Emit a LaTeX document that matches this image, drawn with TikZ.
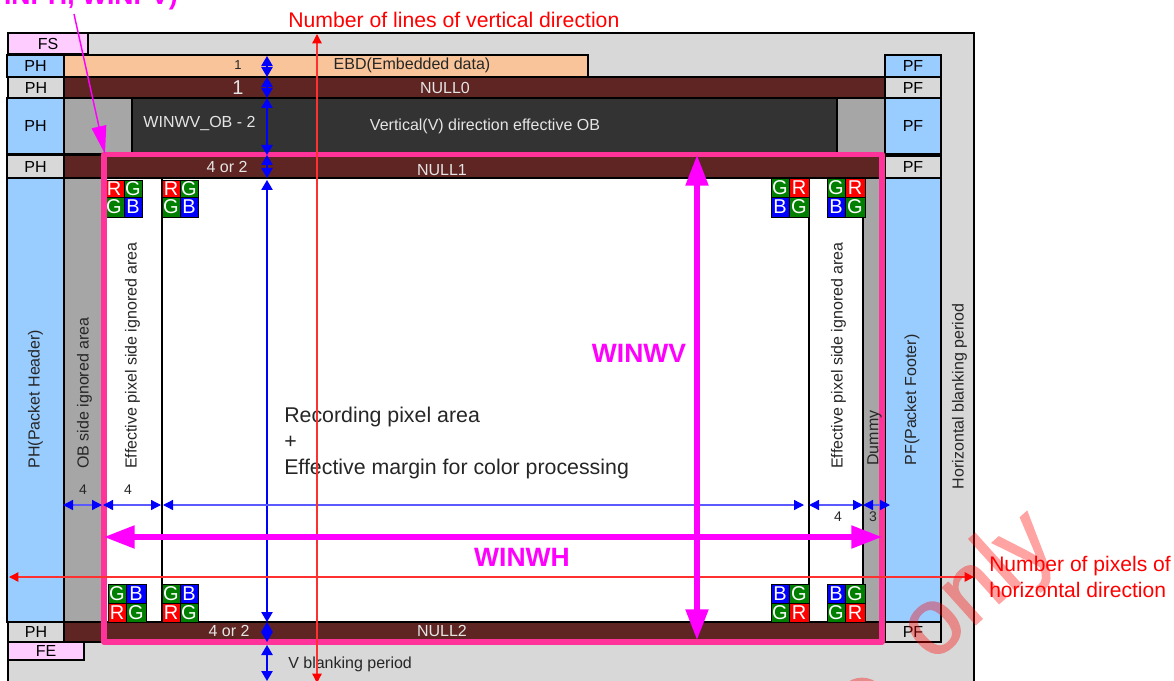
\documentclass[tikz,border=0pt]{standalone}
\usepackage{fontspec}
\setmainfont{Liberation Sans}
\newfontfamily\wmfont[FakeBold=1.5]{Liberation Sans}
\usetikzlibrary{arrows.meta}
\definecolor{lgray}{HTML}{D8D8D8}
\definecolor{mgray}{HTML}{A6A6A6}
\definecolor{dgray}{HTML}{333333}
\definecolor{brownn}{HTML}{5F2522}
\definecolor{peach}{HTML}{F9C499}
\definecolor{skyb}{HTML}{99CCFF}
\definecolor{pinkf}{HTML}{FFCCFF}
\definecolor{hotp}{HTML}{FF3399}
\definecolor{grn}{HTML}{007F00}
\definecolor{magen}{HTML}{FF00FF}
\definecolor{lblue}{HTML}{5A5AFF}
\definecolor{lred}{HTML}{FF3030}
\newcommand{\fs}[1]{\fontsize{\fpeval{#1*0.75}}{\fpeval{#1*0.9}}\selectfont}
\newcommand{\rg}[7]{%
  \pgfmathsetmacro\rgW{(#4-#2)*0.75}\pgfmathsetmacro\rgH{(#5-#3)*0.75}%
  \node[#6,minimum width=\rgW pt,minimum height=\rgH pt,inner sep=0pt] (#1) at ({(#2+#4)/2},{(#3+#5)/2}) {#7};}
\newcommand{\bayer}[9]{%
  \def\bn{#1}\def\ba{#2}\def\bb{#3}\def\bc{#4}\def\bd{#5}\def\be{#6}\def\bff{#7}\def\bg{#8}\def\bh{#9}\bayerb}
\newcommand{\bayerb}[2]{%
  \rg{\bn a}{\ba}{\bd}{\bb}{\be}{cell,\bg}{\cellL{\bg}}%
  \rg{\bn b}{\bb}{\bd}{\bc}{\be}{cell,\bh}{\cellL{\bh}}%
  \rg{\bn c}{\ba}{\be}{\bb}{\bff}{cell,#1}{\cellL{#1}}%
  \rg{\bn d}{\bb}{\be}{\bc}{\bff}{cell,#2}{\cellL{#2}}}
\newcommand{\cellL}[1]{\csname L#1\endcsname}
\def\Lcr{R}\def\Lcg{G}\def\Lcb{B}
\tikzset{
  box/.style={draw=black,line width=1.1pt,fill=#1},
  cell/.style={draw=black,line width=.6pt,text=white,font=\fs{20}},
  cr/.style={fill=red},cg/.style={fill=grn},cb/.style={fill=blue},
  lab/.style={inner sep=0pt,text=#1},
  lab/.default=black!85,
  barrow/.style={blue,line width=1pt,{Triangle[width=8.5pt,length=7.5pt]}-{Triangle[width=8.5pt,length=7.5pt]}},
  harrow/.style={lblue,line width=1pt,{Triangle[width=7.5pt,length=7.5pt,blue]}-{Triangle[width=7.5pt,length=7.5pt,blue]}},
  rarrow/.style={lred,line width=1pt,{Triangle[width=7pt,length=7pt,red]}-{Triangle[width=7pt,length=7pt,red]}},
  marrow/.style={magen,line width=3.9pt,{Triangle[width=16.5pt,length=23pt]}-{Triangle[width=16.5pt,length=23pt]}},
  wmark/.style={text=red,rotate=42,inner sep=0pt,font=\wmfont\fs{94}},
}
\begin{document}
\begin{tikzpicture}[x=0.75pt,y=-0.75pt]
\useasboundingbox (0,0) rectangle (1174,681);
\clip (0,0) rectangle (1174,681);
% outer frame
\rg{outer}{8}{33}{974}{700}{box=lgray}{}
\rg{fs}{8}{33}{88}{54}{box=pinkf}{\fs{16}FS}
% PH column
\rg{ph1}{7}{55}{64}{77}{box=skyb}{\fs{16}PH}
\rg{ph2}{8}{77}{64}{98}{box=lgray}{\fs{16}PH}
\rg{ph3}{7}{98}{64}{154}{box=skyb}{\fs{16}PH}
\rg{ph4}{7}{155}{64}{178}{box=lgray}{\fs{16}PH}
\rg{ph5}{7}{178}{64}{622}{box=skyb}{}
\rg{ph6}{8}{622}{64}{642}{box=lgray}{\fs{16}PH}
% PF column
\rg{pf1}{885}{55}{941}{77}{box=skyb}{\fs{16}PF}
\rg{pf2}{885}{77}{941}{98}{box=lgray}{\fs{16}PF}
\rg{pf3}{885}{98}{941}{154}{box=skyb}{\fs{16}PF}
\rg{pf4}{885}{156}{941}{178}{box=lgray}{\fs{16}PF}
\rg{pf5}{885}{178}{941}{622}{box=skyb}{}
\rg{pf6}{885}{622}{941}{642}{box=lgray}{\fs{16}PF}
% rows
\rg{ebd}{64}{55}{588}{77}{box=peach}{}
\rg{null0}{64}{77}{885}{98}{box=brownn}{}
\rg{obl}{64}{98}{132}{154}{box=mgray}{}
\rg{obd}{132}{98}{837}{154}{box=dgray}{}
\rg{obr}{837}{98}{885}{154}{box=mgray}{}
\rg{null1}{64}{155}{885}{178}{box=brownn}{}
\rg{obside}{64}{178}{104}{622}{box=mgray}{}
\rg{effl}{104}{178}{162}{622}{box=white}{}
\rg{rec}{162}{178}{809}{622}{box=white}{}
\rg{effr}{809}{178}{863}{622}{box=white}{}
\rg{dummy}{863}{178}{885}{622}{box=mgray}{}
\rg{null2}{64}{622}{885}{642}{box=brownn}{}
\rg{fe}{8}{642}{84}{660}{box=pinkf}{\fs{16}FE}
% Bayer blocks
\bayer{b1}{104}{124}{142}{180}{197}{217}{cr}{cg}{cg}{cb}
\bayer{b2}{162}{180}{198}{180}{197}{217}{cr}{cg}{cg}{cb}
\bayer{b3}{771}{789}{809}{178}{197}{217}{cg}{cr}{cb}{cg}
\bayer{b4}{827}{845}{865}{178}{197}{217}{cg}{cr}{cb}{cg}
\bayer{b5}{108}{126}{146}{584}{603}{622}{cg}{cb}{cr}{cg}
\bayer{b6}{162}{180}{198}{584}{603}{622}{cg}{cb}{cr}{cg}
\bayer{b7}{771}{789}{809}{584}{603}{622}{cb}{cg}{cg}{cr}
\bayer{b8}{827}{845}{865}{584}{603}{622}{cb}{cg}{cg}{cr}
% pink window
\rg{win}{104}{154.5}{882}{642}{draw=hotp,line width=4.4pt,line join=round}{}
% labels
\node[lab] (t1) at (238,65) {\fs{13}1};
\node[lab] (t2) at (412,65) {\fs{16}EBD(Embedded data)};
\node[lab=white!90!black] (t3) at (238,88) {\fs{20}1};
\node[lab=white!90!black] (t4) at (445,88) {\fs{16}NULL0};
\node[lab=white!90!black] (t5) at (199.5,124) {\fs{16}WINWV\_OB - 2};
\node[lab=white!90!black] (t6) at (485,126) {\fs{16}Vertical(V) direction effective OB};
\node[lab=white!90!black] (t7) at (227,167) {\fs{16}4 or 2};
\node[lab=white!90!black] (t8) at (442,170) {\fs{16}NULL1};
\node[lab=white!90!black] (t9) at (229,631) {\fs{16}4 or 2};
\node[lab=white!90!black] (t10) at (442,631) {\fs{16}NULL2};
\node[lab,anchor=west] (t11) at (288,664) {\fs{16}V blanking period};
\node[lab,rotate=90] (t12) at (35.5,399) {\fs{16}PH(Packet Header)};
\node[lab,rotate=90] (t13) at (84.5,393) {\fs{16}OB side ignored area};
\node[lab,rotate=90] (t14) at (132.5,355.5) {\fs{16}Effective pixel side ignored area};
\node[lab,rotate=90] (t15) at (838.5,355.5) {\fs{16}Effective pixel side ignored area};
\node[lab,rotate=90] (t16) at (874.5,438) {\fs{16}Dummy};
\node[lab,rotate=90] (t17) at (912,400) {\fs{16}PF(Packet Footer)};
\node[lab,rotate=90] (t18) at (959.5,396.5) {\fs{16}Horizontal blanking period};
\node[lab] (t19) at (83,490) {\fs{14}4};
\node[lab] (t20) at (128,490) {\fs{14}4};
\node[lab] (t21) at (838,517) {\fs{14}4};
\node[lab] (t22) at (873,517) {\fs{14}3};
\node[lab,anchor=west,align=left,font=\fontsize{16}{19.5}\selectfont] (t23) at (284,442.5) {Recording pixel area\\+\\Effective margin for color processing};
\node[lab=magen,font=\bfseries] (t24) at (639,353) {\fs{26.5}WINWV};
\node[lab=magen,font=\bfseries] (t25) at (522,557) {\fs{26.5}WINWH};
\node[lab=red,anchor=west] (t26) at (288,20) {\fs{21.2}Number of lines of vertical direction};
\node[lab=red,anchor=west,align=left,font=\fontsize{15.8}{19.5}\selectfont] (t27) at (989,577) {Number of pixels of\\horizontal direction};
\node[lab=magen,font=\bfseries,anchor=base east] (t28) at (178,5) {\fs{26.5}(WINPH, WINPV)};
% vertical blue dimension arrows
\foreach \n/\y in {0/56,1/77,2/98,3/155,4/178,5/180,6/622,7/642,8/645,9/681}
  \coordinate (v\n) at (267,\y);
\draw[barrow] (v0)--(v1);
\draw[barrow] (v1)--(v2);
\draw[barrow] (v2)--(v3);
\draw[barrow] (v3)--(v4);
\draw[barrow] (v5)--(v6);
\draw[barrow] (v6)--(v7);
\draw[barrow] (v8)--(v9);
% horizontal blue dimension arrows
\foreach \n/\x in {0/63,1/102,2/103,3/161,4/163,5/804,6/809,7/863,8/863,9/890}
  \coordinate (h\n) at (\x,505);
\draw[harrow] (h0)--(h1);
\draw[harrow] (h2)--(h3);
\draw[harrow] (h4)--(h5);
\draw[harrow] (h6)--(h7);
\draw[harrow] (h8)--(h9);
% red
\coordinate (rt) at (317,34); \coordinate (rb) at (317,683);
\coordinate (rl) at (9,577); \coordinate (rr) at (974,577);
\draw[rarrow] (rt)--(rb);
\draw[rarrow] (rl)--(rr);
% magenta
\coordinate (wl) at (104,537); \coordinate (wr) at (882,537);
\coordinate (wt) at (697,155); \coordinate (wb) at (697,640);
\draw[marrow] (wl)--(wr);
\draw[marrow] (wt)--(wb);
\coordinate (ps) at (74,14); \coordinate (pe) at (105,154);
\draw[magen,line width=1.1pt,-{Triangle[width=11pt,length=21pt]}] (ps)--(pe);
% watermark
\begin{scope}[transparency group,opacity=.36]
\node[wmark] (wm) at (980,588) {only};
\draw[red,line width=8pt] (862,703) circle (20);
\end{scope}
\end{tikzpicture}
\end{document}
